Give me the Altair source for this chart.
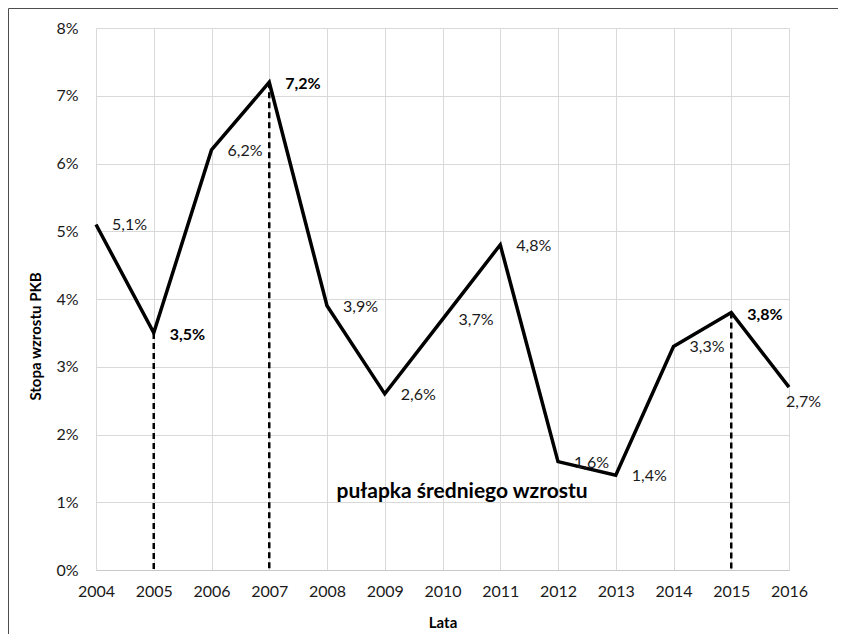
import altair as alt
import pandas as pd

years = [2004, 2005, 2006, 2007, 2008, 2009, 2010, 2011, 2012, 2013, 2014, 2015, 2016]
gdp_growth = [5.1, 3.5, 6.2, 7.2, 3.9, 2.6, 3.7, 4.8, 1.6, 1.4, 3.3, 3.8, 2.7]
highlight_years = [2005, 2007, 2015]
below_label_years = [2016]
y_ticks = [0, 1, 2, 3, 4, 5, 6, 7, 8]
annotation_text = ["pułapka średniego wzrostu"]
annotation_year = [2010.34]
annotation_value = [1.15]

FONT = "Lato"

df = pd.DataFrame({"year": years, "value": [v / 100 for v in gdp_growth]})
df["label"] = [f"{v:.1f}".replace(".", ",") + "%" for v in gdp_growth]
df["bold"] = df["year"].isin(highlight_years)
df["below"] = df["year"].isin(below_label_years)

ann = pd.DataFrame({"text": annotation_text, "year": annotation_year,
                    "value": [v / 100 for v in annotation_value]})

W, H = 693, 542
PAD = {"left": 88, "top": 20, "right": 49, "bottom": 64}

x_enc = alt.X("year:Q",
              scale=alt.Scale(domain=[years[0], years[-1]], nice=False, zero=False),
              axis=alt.Axis(values=years, format="d", title="Lata", grid=True,
                            gridColor="#d9d9d9", gridWidth=1, ticks=False,
                            domain=True, domainColor="#c8c8c8", domainWidth=1,
                            labelFont=FONT, labelFontSize=16, labelColor="#1a1a1a",
                            labelPadding=13, labelFlush=False,
                            titleFont=FONT, titleFontSize=15, titleFontWeight="bold",
                            titleColor="#000000", titleY=52, titleBaseline="middle"))
y_enc = alt.Y("value:Q",
              scale=alt.Scale(domain=[0, 0.08], nice=False),
              axis=alt.Axis(values=[t / 100 for t in y_ticks], format=".0%",
                            title="Stopa wzrostu PKB", grid=True, gridColor="#d9d9d9",
                            gridWidth=1, ticks=False, domain=False,
                            labelFont=FONT, labelFontSize=16, labelColor="#1a1a1a",
                            labelPadding=18,
                            titleFont=FONT, titleFontSize=15, titleFontWeight="bold",
                            titleColor="#000000", titleX=-61, titleY=308,
                            titleBaseline="middle", titleAngle=270))

base = alt.Chart(df)
one = pd.DataFrame({"a": [0]})

frame_left = alt.Chart(one).mark_rule(
    color="#4d4d4d", strokeWidth=1, clip=False
).encode(x=alt.value(-87.5), y=alt.value(-19.5), y2=alt.value(H + PAD["bottom"]))
frame_top = alt.Chart(one).mark_rule(
    color="#4d4d4d", strokeWidth=1, clip=False
).encode(x=alt.value(-87.5), x2=alt.value(W + PAD["right"]), y=alt.value(-19.5))

rules = base.transform_filter(alt.datum.bold).mark_rule(
    color="black", strokeWidth=2.5, strokeDash=[6, 4]
).encode(x=x_enc, y=y_enc, y2=alt.Y2(datum=0))

line = base.mark_line(color="black", strokeWidth=3.5, strokeJoin="miter").encode(
    x=x_enc, y=y_enc)

labels_normal = base.transform_filter(
    "!datum.bold && !datum.below").mark_text(
    align="left", baseline="middle", dx=16, dy=1, font=FONT, fontSize=16,
    color="#1a1a1a").encode(x=x_enc, y=y_enc, text="label:N")

labels_bold = base.transform_filter(alt.datum.bold).mark_text(
    align="left", baseline="middle", dx=16, dy=2, font=FONT, fontSize=16,
    fontWeight="bold", color="#000000").encode(x=x_enc, y=y_enc, text="label:N")

labels_below = base.transform_filter(alt.datum.below).mark_text(
    align="left", baseline="middle", dx=-3, dy=15, font=FONT, fontSize=16,
    color="#1a1a1a").encode(x=x_enc, y=y_enc, text="label:N")

annotation = alt.Chart(ann).mark_text(
    align="center", baseline="middle", font=FONT, fontSize=21, fontWeight="bold",
    color="#000000").encode(x=x_enc, y=y_enc, text="text:N")

chart = alt.layer(frame_left, frame_top, rules, line, labels_normal, labels_bold,
                  labels_below, annotation).properties(
    width=W, height=H,
    autosize=alt.AutoSizeParams(type="none"),
    padding=PAD,
    background="white",
).configure_view(stroke="transparent")

chart.save("out.html", embed_options={"renderer": "svg", "actions": False})
